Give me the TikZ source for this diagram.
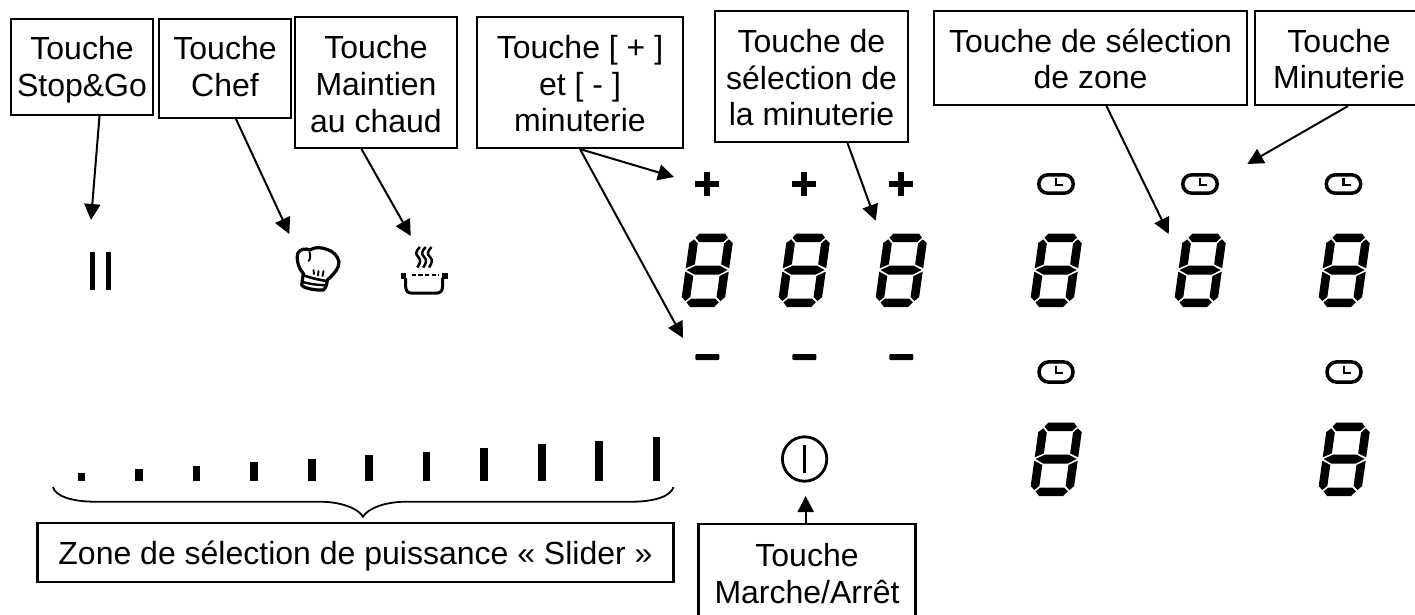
\documentclass[tikz,border=0pt]{standalone}
\usepackage{fontspec}
\setmainfont{Liberation Sans}
\usetikzlibrary{arrows.meta}
\newcommand{\tdown}[1]{\rule{0pt}{\dimexpr 23.5pt+2\dimexpr #1pt\relax\relax}}
\newcommand{\tup}[1]{\rule[-#1pt]{0pt}{0pt}}
\tikzset{
  lab/.style={draw=black,line width=2.1pt,fill=white,align=center,inner sep=0pt,font=\fontsize{32}{36.6}\selectfont},
  conn/.style={draw=black,line width=2pt,-{Triangle[length=16pt,width=16pt]}},
  clockstyle/.style={draw=black,line width=3.5pt},
  segdigit/.pic={
    \begin{scope}[xshift=8.67pt,x={(0.345pt,0pt)},y={(-0.0467pt,-0.3333pt)}]
    \fill (26,2)--(100,2)--(110,14)--(98,27)--(28,27)--(16,14)--cycle;
    \fill (113,19)--(126,30)--(126,106)--(101,94)--(101,32)--cycle;
    \fill (13,19)--(25,32)--(25,94)--(0,106)--(0,30)--cycle;
    \fill (3,111)--(28,98)--(98,98)--(122,111)--(98,125)--(28,125)--cycle;
    \fill (0,116)--(25,129)--(25,192)--(12,204)--(0,192)--cycle;
    \fill (126,116)--(101,129)--(101,192)--(114,204)--(126,192)--cycle;
    \fill (28,197)--(98,197)--(110,208)--(98,222)--(28,222)--(16,208)--cycle;
    \end{scope}
  },
  clockicon/.pic={
    \draw[clockstyle,rounded corners=9pt] (-17.2,-9.2) rectangle (17.2,9.2);
    \draw[line width=2.6pt] (0,-6) -- (0,1) -- (7,1);
  },
  lowclock/.pic={
    \draw[clockstyle,rounded corners=10pt] (-17,-10.2) rectangle (17,10.2);
    \draw[line width=2.6pt] (0,-6) -- (0,1) -- (7,1);
  },
  plusicon/.pic={
    \fill (-12,-3) rectangle (12,3);
    \fill (-3,-12) rectangle (3,12);
  },
  minusicon/.pic={\fill[rounded corners=1pt] (-12,-3) rectangle (12,3);},
}
\begin{document}
\begin{tikzpicture}[x=1pt,y=-1pt]
\useasboundingbox (0,0) rectangle (1415,614);
\clip (0,0) rectangle (1415,614);
% boxes
\node[lab,minimum width=142pt,minimum height=96pt] (b1) at (82,67) {\tdown{2.5}Touche\\Stop\&Go};
\node[lab,minimum width=132pt,minimum height=99pt] (b2) at (225,68.5) {Touche\\Chef\tup{4}};
\node[lab,minimum width=162pt,minimum height=131pt] (b3) at (376,82.5) {\tdown{1.5}Touche\\Maintien\\au chaud};
\node[lab,minimum width=206pt,minimum height=131pt] (b4) at (580,82.5) {\tdown{1}Touche [ + ]\\et [ - ]\\minuterie};
\node[lab,minimum width=193pt,minimum height=131pt] (b5) at (811.5,76.5) {\tdown{1}Touche de\\sélection de\\la minuterie};
\node[lab,minimum width=313pt,minimum height=94pt] (b6) at (1090.5,58) {\tdown{1}Touche de sélection\\de zone};
\node[lab,minimum width=168pt,minimum height=94pt] (b7) at (1339,58) {\tdown{1}Touche\\Minuterie};
\node[lab,minimum width=636pt,minimum height=59pt] (b8) at (355.5,552.5) {\tdown{3.5}Zone de sélection de puissance « Slider »};
\node[lab,minimum width=217pt,minimum height=99pt] (b9) at (807,573.5) {Touche\\Marche/Arrêt};
% arrow targets
\coordinate (t1) at (91,220);
\coordinate (t2) at (289.3,234);
\coordinate (t3) at (410.7,236);
\coordinate (t4) at (674,177);
\coordinate (t5) at (683,338);
\coordinate (t6) at (875.7,220.7);
\coordinate (t7) at (1168.7,234);
\coordinate (t8) at (1247.3,164);
\coordinate (t9) at (805.7,496);
\draw[conn] ([xshift=17.5pt]b1.south) -- (t1);
\draw[conn] ([xshift=11pt]b2.south) -- (t2);
\draw[conn] ([xshift=-14.5pt]b3.south) -- (t3);
\draw[conn] (b4.south) -- (t4);
\draw[conn] (b4.south) -- (t5);
\draw[conn] ([xshift=36pt]b5.south) -- (t6);
\draw[conn] ([xshift=16pt]b6.south) -- (t7);
\draw[conn] ([xshift=9pt]b7.south) -- (t8);
\draw[conn] ([xshift=-1.3pt]b9.north) -- (t9);
% pause
\fill (90.3,252) rectangle (94.8,290);
\fill (105.8,252) rectangle (110.5,290);
% chef hat
\begin{scope}[line width=3.2pt,line join=round,line cap=round]
\draw (303.3,273.3) .. controls (298,268) and (296,258) .. (298,253) .. controls (300,249) and (306,248) .. (310,250) .. controls (314,247) and (321,247) .. (326.7,249.3) .. controls (333,251) and (338,256) .. (339,262) .. controls (339.5,268) and (333,275) .. (327.3,280);
\draw (303.3,273.3) -- (301.7,285) .. controls (303,288) and (315,290.5) .. (323.3,290) .. controls (326,288) and (327,284) .. (327.3,280);
\draw[line width=2.6pt] (303.3,275) .. controls (310,278) and (320,280) .. (327,281);
\draw[line width=2.4pt] (302.5,282) .. controls (310,284) and (320,285.5) .. (326,285);
\draw[line width=1.9pt] (309.5,252) .. controls (311,256) and (310,260) .. (308.5,261);
\draw[line width=1.9pt] (313.5,270) -- (314,274) (318.5,271) -- (318,275.5) (323.5,271) -- (322.5,276);
\end{scope}
% pot
\fill (400.5,273.3) rectangle (406,279.3);
\fill (442.3,273.3) rectangle (448,279.3);
\draw[line width=3pt,line join=round] (405.7,278) -- (405.7,287) .. controls (405.7,291) and (408,293.2) .. (412,293.2) -- (436,293.2) .. controls (440,293.2) and (442.5,291) .. (442.5,287) -- (442.5,278);
\draw[line width=2.4pt,dash pattern=on 4.5pt off 2.2pt] (411.5,275.2) -- (439,275.2);
\foreach \sx in {418.3,424.2,430}{
  \draw[line width=2.5pt] (\sx+1.5,247) .. controls (\sx-3,252) and (\sx-3,254) .. (\sx,257) .. controls (\sx+3,260) and (\sx+2,263) .. (\sx-1,267.5);
}
% plus and minus
\foreach \px/\pn in {707.3/a,804.3/b,901.3/c}{
  \pic (pl\pn) at (\px,184) {plusicon};
  \pic (mi\pn) at (\px,357) {minusicon};
}
% digits
\foreach \dx/\dy/\dn in {682/233/a,779/233/b,876/233/c,1031/233/d,1175/233/e,1319/233/f,1031/422/g,1319/422/h}{
  \pic (dg\dn) at (\dx,\dy) {segdigit};
}
% clocks
\foreach \cx/\cn in {1056/a,1200/b,1343.5/c}{
  \pic (ck\cn) at (\cx,184) {clockicon};
}
\foreach \cx/\cn in {1056/d,1344/e}{
  \pic (ck\cn) at (\cx,372) {lowclock};
}
% power
\draw[line width=2.8pt] (804.6,459) circle (22.2pt);
\draw[line width=2.4pt] (804.6,445) -- (804.6,473);
% slider
\foreach \sx/\st in {81.7/473,139/469,196.5/466,254/462,312/459,369/455,426.5/451.7,484/448,541.8/444,599/440.7,656.6/437}{
  \fill (\sx-3.7,\st) rectangle (\sx+3.7,480.7);
}
% brace
\draw[line width=1.8pt] (53,487) .. controls (55,496) and (72,501.7) .. (95,501.7) -- (320,501.7) .. controls (340,501.7) and (358,508) .. (363,516.7) .. controls (368,508) and (386,501.7) .. (406,501.7) -- (632,501.7) .. controls (655,501.7) and (671,496) .. (673.5,487);
\end{tikzpicture}
\end{document}
